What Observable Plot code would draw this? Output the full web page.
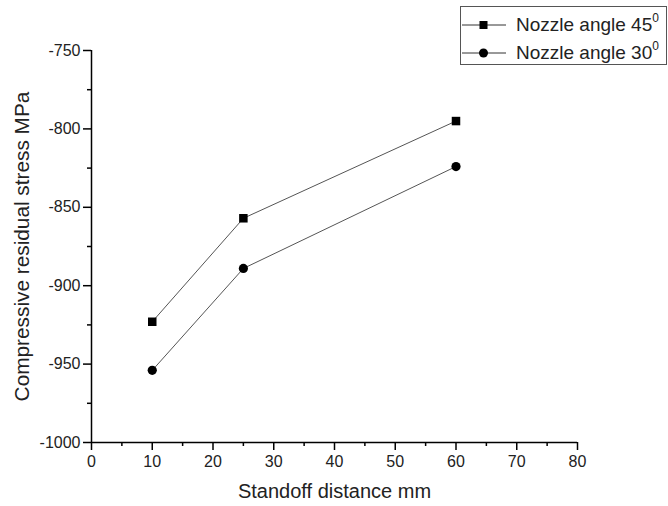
<!DOCTYPE html>
<html><head><meta charset="utf-8">
<script src="https://cdn.jsdelivr.net/npm/d3@7"></script>
<script src="https://cdn.jsdelivr.net/npm/@observablehq/plot@0.6"></script>
<style>
body{margin:0;background:#fff;}
#wrap{position:relative;width:668px;height:506px;font-family:"Liberation Sans",Arial,sans-serif;}
#legend{position:absolute;left:460px;top:6px;width:205px;height:57px;border:1px solid #555;background:#fff;}
.row{position:absolute;left:0;height:26px;display:flex;align-items:center;font-size:19px;color:#222;white-space:nowrap;}
.row svg{margin-right:9px;}
sup{font-size:12px;position:relative;top:-2px;}
</style></head>
<body>
<div id="wrap"></div>
<script>
const standoff = [10, 25, 60];
const angle45 = [-923, -857, -795];
const angle30 = [-954, -889, -824];
const seriesNames = ["Nozzle angle 45", "Nozzle angle 30"];
const xTicks = [0, 10, 20, 30, 40, 50, 60, 70, 80];
const xMinor = [5, 15, 25, 35, 45, 55, 65, 75];
const yTicks = [-1000, -950, -900, -850, -800, -750];
const yMinor = [-975, -925, -875, -825, -775];
const xLabel = "Standoff distance mm";
const yLabel = "Compressive residual stress MPa";

const d45 = standoff.map((x, i) => ({x, y: angle45[i]}));
const d30 = standoff.map((x, i) => ({x, y: angle30[i]}));

const chart = Plot.plot({
  width: 668, height: 506,
  marginLeft: 91, marginRight: 91, marginTop: 50, marginBottom: 64,
  style: {fontFamily: "Liberation Sans, Arial, sans-serif", fontSize: "16px", color: "#222", background: "white"},
  x: {domain: [0, 80]},
  y: {domain: [-1000, -750]},
  marks: [
    Plot.axisX({ticks: xTicks, tickSize: 8, tickPadding: 5, tickFormat: d => String(d), label: null, stroke: "#000", strokeWidth: 1.5}),
    Plot.axisX({ticks: xMinor, tickSize: 4, text: null, label: null, stroke: "#000", strokeWidth: 1.5}),
    Plot.axisY({ticks: yTicks, tickSize: 8, tickPadding: 3, tickFormat: d => String(d), label: null, stroke: "#000", strokeWidth: 1.5}),
    Plot.axisY({ticks: yMinor, tickSize: 4, text: null, label: null, stroke: "#000", strokeWidth: 1.5}),
    Plot.axisY({ticks: [], tickSize: 0, label: yLabel, labelArrow: "none", labelAnchor: "center", labelOffset: 77, fontSize: 20.8, fill: "#222"}),
    Plot.ruleX([0], {stroke: "#000", strokeWidth: 1.5}),
    Plot.ruleY([-1000], {stroke: "#000", strokeWidth: 1.5}),
    Plot.text([xLabel], {frameAnchor: "bottom", dy: 55, fontSize: 20, fill: "#222"}),
    Plot.line(d45, {x: "x", y: "y", stroke: "#555", strokeWidth: 1}),
    Plot.line(d30, {x: "x", y: "y", stroke: "#555", strokeWidth: 1}),
    Plot.dot(d45, {x: "x", y: "y", symbol: "square", r: 4.8, fill: "#000"}),
    Plot.dot(d30, {x: "x", y: "y", symbol: "circle", r: 4.6, fill: "#000"})
  ]
});
const wrap = document.getElementById("wrap");
wrap.appendChild(chart);

const legend = document.createElement("div");
legend.id = "legend";
const symbols = ["square", "circle"];
seriesNames.forEach((name, i) => {
  const row = document.createElement("div");
  row.className = "row";
  row.style.top = (5 + i * 28) + "px";
  const sym = symbols[i] === "square"
    ? '<rect x="18.5" y="9" width="8" height="8" fill="#000"/>'
    : '<circle cx="22.5" cy="13" r="4.5" fill="#000"/>';
  row.innerHTML = '<svg width="46" height="26"><line x1="1" x2="45" y1="13" y2="13" stroke="#333" stroke-width="1"/>' + sym + '</svg>' +
    '<span>' + name + '<sup>0</sup></span>';
  legend.appendChild(row);
});
wrap.appendChild(legend);
</script>
</body></html>
